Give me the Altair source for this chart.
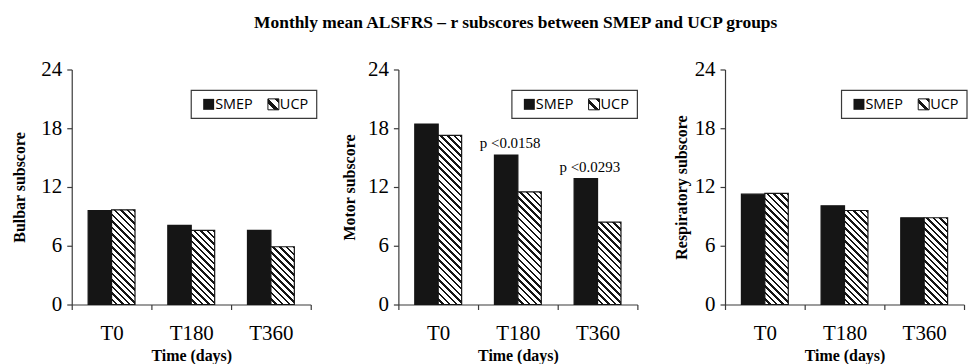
import altair as alt

# ---- data ----
times = ["T0", "T180", "T360"]
groups = ["SMEP", "UCP"]
bulbar_smep = [9.6, 8.08, 7.57]
bulbar_ucp = [9.67, 7.57, 5.9]
motor_smep = [18.43, 15.27, 12.86]
motor_ucp = [17.28, 11.5, 8.42]
resp_smep = [11.27, 10.08, 8.86]
resp_ucp = [11.34, 9.6, 8.86]
panel_titles = ["Bulbar subscore", "Motor subscore", "Respiratory subscore"]
pvalue_times = ["T180", "T360"]
pvalue_labels = ["p <0.0158", "p <0.0293"]
y_ticks = [0, 6, 12, 18, 24]
main_title = "Monthly mean ALSFRS – r subscores between SMEP and UCP groups"
x_title = "Time (days)"

# ---- style ----
W, H, YMAX = 240, 236, 24
PAD_OUTER = 0.7
BAR_W = W / 3 / (2 + 2 * PAD_OUTER)
PERIOD = 6.7
DARK = 0.38
BLACK = "#151515"
AXIS_C = "#3a3a3a"
SERIF = "Liberation Serif"
SANS = "Open Sans"


def hatch(w, h, period=PERIOD):
    """diagonal '\\' hatch as a linear gradient in the bar's bounding box"""
    k = (w + h) / (w * w + h * h)
    n = max(1, round((w + h) / period))
    stops = []
    for i in range(n):
        a = i / n
        b = (i + 1) / n
        m = a + (1 - DARK) / n
        stops += [
            {"offset": round(a, 5), "color": "#ffffff"},
            {"offset": round(m, 5), "color": "#ffffff"},
            {"offset": round(m, 5), "color": BLACK},
            {"offset": round(b, 5), "color": BLACK},
        ]
    return {"gradient": "linear", "x1": 0, "y1": 1,
            "x2": round(k * w, 5), "y2": round(1 - k * h, 5), "stops": stops}


def panel(smep, ucp, ytitle, title_pad, legend_right, pvals=None):
    rows = []
    for t, v in zip(times, smep):
        rows.append({"time": t, "group": "SMEP", "value": v, "grad": BLACK})
    for t, v in zip(times, ucp):
        rows.append({"time": t, "group": "UCP", "value": v,
                     "grad": hatch(BAR_W, v / YMAX * H)})

    x = alt.X("time:N", scale=alt.Scale(domain=times, paddingInner=0, paddingOuter=0),
              axis=alt.Axis(title=x_title, labelAngle=0, tickBand="extent", tickSize=5,
                            labelPadding=13, labelFont=SERIF, labelFontSize=21,
                            labelColor="black", titleFont=SERIF, titleFontSize=16,
                            titleFontWeight="bold", titleColor="black", titlePadding=4,
                            domainColor=AXIS_C, tickColor=AXIS_C, domainWidth=1.2,
                            tickWidth=1.2))
    xo = alt.XOffset("group:N", scale=alt.Scale(domain=groups, paddingInner=0,
                                                  paddingOuter=PAD_OUTER))
    y = alt.Y("value:Q", scale=alt.Scale(domain=[0, YMAX], nice=False),
              axis=alt.Axis(title=ytitle, values=y_ticks, grid=False, tickSize=5,
                            labelPadding=5, labelFont=SERIF, labelFontSize=21,
                            labelColor="black", titleFont=SERIF, titleFontSize=16,
                            titleFontWeight="bold", titleColor="black",
                            titlePadding=title_pad, domainColor=AXIS_C,
                            tickColor=AXIS_C, domainWidth=1.2, tickWidth=1.2))

    bars = alt.Chart(alt.Data(values=rows)).mark_bar(
        stroke=BLACK, strokeWidth=1.2
    ).encode(x=x, xOffset=xo, y=y, fill=alt.Fill("grad:N", scale=None))

    layers = [bars]
    if pvals:
        prow = [{"time": t, "group": "SMEP", "value": smep[times.index(t)], "label": l}
                for t, l in zip(pvalue_times, pvalue_labels)]
        layers.append(
            alt.Chart(alt.Data(values=prow)).mark_text(
                baseline="bottom", dy=-4, dx=4, font=SERIF, fontSize=15, color="black"
            ).encode(x="time:N", xOffset="group:N", y="value:Q", text="label:N")
        )

    # custom legend box
    L = legend_right - 126
    one = alt.Data(values=[{"a": 1}])
    lg = [
        alt.Chart(one).mark_rect(fill="white", stroke=AXIS_C, strokeWidth=1.2).encode(
            x=alt.value(L), x2=alt.value(legend_right), y=alt.value(21), y2=alt.value(49)),
        alt.Chart(one).mark_rect(fill=BLACK).encode(
            x=alt.value(L + 12), x2=alt.value(L + 23), y=alt.value(29.5), y2=alt.value(40.5)),
        alt.Chart(one).mark_text(align="left", baseline="middle", font=SANS, fontSize=14.5,
                                 color="black").encode(
            x=alt.value(L + 24), y=alt.value(35.5), text=alt.value(groups[0])),
        alt.Chart(one).mark_rect(stroke=BLACK, strokeWidth=1, fill=hatch(11, 11, 9)).encode(
            x=alt.value(L + 77), x2=alt.value(L + 88), y=alt.value(29.5), y2=alt.value(40.5)),
        alt.Chart(one).mark_text(align="left", baseline="middle", font=SANS, fontSize=14.5,
                                 color="black").encode(
            x=alt.value(L + 89), y=alt.value(35.5), text=alt.value(groups[1])),
    ]
    return alt.layer(*layers, *lg).properties(width=W, height=H)


p1 = panel(bulbar_smep, bulbar_ucp, panel_titles[0], 13, 246)
p2 = panel(motor_smep, motor_ucp, panel_titles[1], 10, 240, pvals=True)
p3 = panel(resp_smep, resp_ucp, panel_titles[2], 5, 243)

chart = alt.hconcat(
    alt.hconcat(p1, p2, spacing=24), p3, spacing=35
).properties(
    title=alt.TitleParams(main_title, font=SERIF, fontSize=17.5, fontWeight="bold",
                          color="black", anchor="middle", offset=27, dx=26),
    padding={"left": 4, "top": 5, "right": 0, "bottom": 0},
).configure_view(stroke=None)

chart.save("out.html", embed_options={"renderer": "svg", "actions": False})
